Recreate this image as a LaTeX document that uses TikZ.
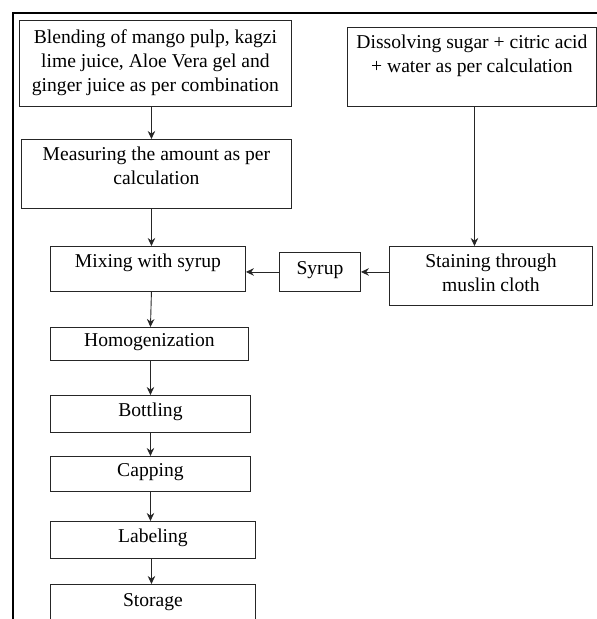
\documentclass[tikz,border=0pt]{standalone}
\usepackage{fontspec}
\setmainfont{Liberation Serif}
\usetikzlibrary{arrows.meta,positioning}

\begin{document}
\begin{tikzpicture}[x=1pt,y=-1pt,>={Stealth[length=8pt,width=7.5pt]}]
\tikzset{
  box/.style={draw=black!85, line width=0.9pt, rectangle, anchor=north west, inner sep=0pt},
  txt/.style={anchor=north, align=center, inner sep=0pt, font=\fontsize{19.6}{24}\selectfont},
  arr/.style={->, line width=0.9pt, black!85}
}
\useasboundingbox (0,0) rectangle (597,619);
% ---------- frame ----------
\draw[line width=1.6pt] (13,625) -- (13,13) -- (600,13);
% ---------- left column ----------
\node[box, minimum width=272pt, minimum height=86pt] (blend) at (19,20) {};
\node[box, minimum width=270pt, minimum height=69pt] (measure) at (21,139) {};
\node[box, minimum width=195pt, minimum height=45pt] (mix) at (50,246) {};
\node[box, minimum width=198pt, minimum height=33pt] (homog) at (50,327) {};
\node[box, minimum width=200pt, minimum height=37pt] (bottle) at (50,395) {};
\node[box, minimum width=200pt, minimum height=35pt] (cap) at (50,456) {};
\node[box, minimum width=205pt, minimum height=37pt] (label) at (50,521) {};
\node[box, minimum width=205pt, minimum height=45pt] (store) at (50,584) {};
% ---------- right column ----------
\node[box, minimum width=249pt, minimum height=79pt] (dissolve) at (347,27) {};
\node[box, minimum width=203pt, minimum height=59pt] (stain) at (389,246) {};
\node[box, minimum width=81pt, minimum height=39pt] (syrup) at (279,252) {};
% ---------- texts ----------
\node[txt] (blend-t) at ([yshift=-9pt]blend.north) {Blending of mango pulp, kagzi\\lime juice, Aloe Vera gel and\\ginger juice as per combination};
\node[txt] (measure-t) at ([yshift=-8pt]measure.north) {Measuring the amount as per\\calculation};
\node[txt] (mix-t) at ([yshift=-8pt]mix.north) {Mixing with syrup};
\node[txt] (homog-t) at ([yshift=-6pt]homog.north) {Homogenization};
\node[txt] (bottle-t) at ([yshift=-8pt]bottle.north) {Bottling};
\node[txt] (cap-t) at ([yshift=-7pt]cap.north) {Capping};
\node[txt] (label-t) at ([yshift=-8pt]label.north) {Labeling};
\node[txt] (store-t) at ([yshift=-9pt]store.north) {Storage};
\node[txt] (dissolve-t) at ([yshift=-8pt]dissolve.north) {Dissolving sugar + citric acid\\+ water as per calculation};
\node[txt] (stain-t) at ([yshift=-8pt]stain.north) {Staining through\\muslin cloth};
\node[txt] (syrup-t) at ([yshift=-9pt]syrup.north) {Syrup};
% ---------- arrows ----------
\draw[arr] ([xshift=-4pt]blend.south) -- ([xshift=-4pt]blend.south |- measure.north);
\draw[arr] ([xshift=-5pt]measure.south) -- ([xshift=-5pt]measure.south |- mix.north);
\draw[arr] ([xshift=3.5pt]mix.south) -- ([xshift=1pt]homog.north);
\draw[arr] ([xshift=1pt]homog.south) -- ([xshift=1pt]homog.south |- bottle.north);
\draw[arr] (bottle.south) -- (bottle.south |- cap.north);
\draw[arr] (cap.south) -- (cap.south |- label.north);
\draw[arr] ([xshift=-1.5pt]label.south) -- ([xshift=-1.5pt]label.south |- store.north);
\draw[arr] ([xshift=2.5pt]dissolve.south) -- ([xshift=2.5pt]dissolve.south |- stain.north);
\draw[arr] (stain.west |- syrup.east) -- (syrup.east);
\draw[arr] (syrup.west) -- (syrup.west -| mix.east);
\end{tikzpicture}
\end{document}
